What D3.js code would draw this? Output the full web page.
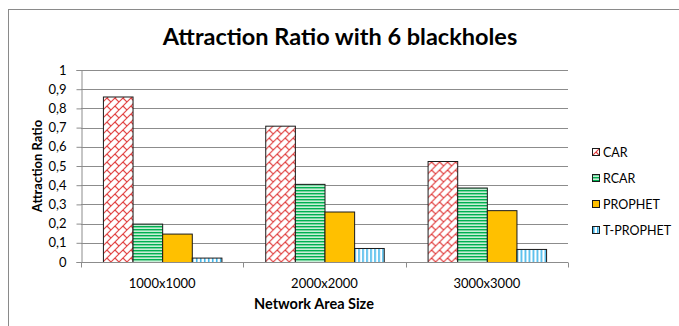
<!DOCTYPE html>
<html>
<head>
<meta charset="utf-8">
<script src="https://cdn.jsdelivr.net/npm/d3@7"></script>
<style>
  html, body { margin: 0; padding: 0; background: #fff; }
  svg { display: block; font-family: Lato, "Open Sans", sans-serif; }
</style>
</head>
<body>
<div id="chart"></div>
<script>
// chart data
const categories = ['1000x1000', '2000x2000', '3000x3000'];
const seriesNames = ['CAR', 'RCAR', 'PROPHET', 'T-PROPHET'];
const carValues = [0.862, 0.71, 0.526];
const rcarValues = [0.2, 0.407, 0.388];
const prophetValues = [0.148, 0.263, 0.27];
const tprophetValues = [0.023, 0.073, 0.068];
const yTicks = [0, 0.1, 0.2, 0.3, 0.4, 0.5, 0.6, 0.7, 0.8, 0.9, 1];

const seriesValues = [carValues, rcarValues, prophetValues, tprophetValues];
const fills = ['url(#pCar)', 'url(#pRcar)', '#FFC000', 'url(#pTprophet)'];

const width = 679, height = 326;
const margin = { top: 70, right: 111, bottom: 64, left: 81 };
const innerW = width - margin.left - margin.right;
const innerH = height - margin.top - margin.bottom;

const svg = d3.select('#chart').append('svg')
  .attr('width', width)
  .attr('height', height);

// patterns
const defs = svg.append('defs');

const car = defs.append('pattern')
  .attr('id', 'pCar')
  .attr('patternUnits', 'userSpaceOnUse')
  .attr('width', 8).attr('height', 8);
car.append('rect').attr('width', 8).attr('height', 8).attr('fill', '#fff');
car.append('path')
  .attr('d', 'M0,8 L8,0 M-2,2 L2,-2 M6,10 L10,6 M4,4 L8,8')
  .attr('stroke', '#E03A3A').attr('stroke-width', 1.1).attr('fill', 'none');

const rcar = defs.append('pattern')
  .attr('id', 'pRcar')
  .attr('patternUnits', 'userSpaceOnUse')
  .attr('width', 4).attr('height', 3);
rcar.append('rect').attr('width', 4).attr('height', 3).attr('fill', '#C8EED6');
rcar.append('rect').attr('y', 0).attr('width', 4).attr('height', 1.4).attr('fill', '#00B050');

const tp = defs.append('pattern')
  .attr('id', 'pTprophet')
  .attr('patternUnits', 'userSpaceOnUse')
  .attr('width', 4).attr('height', 4);
tp.append('rect').attr('width', 4).attr('height', 4).attr('fill', '#fff');
tp.append('rect').attr('x', 1).attr('width', 1.6).attr('height', 4).attr('fill', '#3DB5EA');

// outer frame
svg.append('rect')
  .attr('x', 8.5).attr('y', 9.5)
  .attr('width', width).attr('height', height)
  .attr('fill', 'none')
  .attr('stroke', '#8a8a8a')
  .attr('stroke-width', 1);

const g = svg.append('g')
  .attr('transform', `translate(${margin.left},${margin.top})`);

const x0 = d3.scaleBand()
  .domain(categories)
  .range([0, innerW])
  .paddingInner(0.27)
  .paddingOuter(0.135);

const x1 = d3.scaleBand()
  .domain(seriesNames)
  .range([0, x0.bandwidth()]);

const y = d3.scaleLinear()
  .domain([0, 1])
  .range([innerH, 0]);

// gridlines
g.append('g')
  .selectAll('line')
  .data(yTicks.slice(1))
  .join('line')
  .attr('x1', 0).attr('x2', innerW)
  .attr('y1', d => Math.round(y(d)) + 0.5)
  .attr('y2', d => Math.round(y(d)) + 0.5)
  .attr('stroke', '#8c8c8c')
  .attr('stroke-width', 1);

// y axis
const yAxis = g.append('g')
  .attr('transform', 'translate(0.5,0)')
  .call(d3.axisLeft(y)
    .tickValues(yTicks)
    .tickSize(5)
    .tickPadding(10)
    .tickFormat(d => d3.format('~g')(d).replace('.', ',')));
yAxis.select('.domain').attr('stroke', '#8c8c8c');
yAxis.selectAll('.tick line').attr('stroke', '#8c8c8c');
yAxis.selectAll('text')
  .attr('font-size', 13)
  .attr('fill', '#000')
  .attr('font-family', 'Lato, sans-serif');

// bars
const groups = g.append('g')
  .selectAll('g')
  .data(categories)
  .join('g')
  .attr('transform', d => `translate(${x0(d)},0)`);

groups.selectAll('rect')
  .data((d, i) => seriesNames.map((s, j) => ({ s, j, v: seriesValues[j][i] })))
  .join('rect')
  .attr('x', d => x1(d.s) + 0.5)
  .attr('y', d => y(d.v) + 0.5)
  .attr('width', x1.bandwidth())
  .attr('height', d => innerH - y(d.v))
  .attr('fill', d => fills[d.j])
  .attr('stroke', '#1a1a1a')
  .attr('stroke-width', 1);

// x axis
const xTickPos = d3.range(categories.length + 1).map(i => i * innerW / categories.length);
const xAxis = g.append('g')
  .attr('transform', `translate(0,${innerH + 0.5})`);
xAxis.append('line')
  .attr('x1', 0).attr('x2', innerW)
  .attr('stroke', '#8c8c8c');
xAxis.selectAll('.xt')
  .data(xTickPos)
  .join('line')
  .attr('class', 'xt')
  .attr('x1', d => Math.round(d) + 0.5).attr('x2', d => Math.round(d) + 0.5)
  .attr('y1', 0).attr('y2', 5)
  .attr('stroke', '#8c8c8c');
xAxis.selectAll('text')
  .data(categories)
  .join('text')
  .attr('x', d => x0(d) + x0.bandwidth() / 2)
  .attr('y', 25)
  .attr('text-anchor', 'middle')
  .attr('font-size', 13)
  .text(d => d);

// axis titles
svg.append('text')
  .attr('x', 314)
  .attr('y', 309)
  .attr('text-anchor', 'middle')
  .attr('font-size', 14.5)
  .attr('font-weight', 'bold')
  .text('Network Area Size');

svg.append('text')
  .attr('transform', `translate(42,${margin.top + innerH / 2}) rotate(-90)`)
  .attr('text-anchor', 'middle')
  .attr('font-size', 13)
  .attr('font-weight', 'bold')
  .text('Attraction Ratio');

// title
svg.append('text')
  .attr('x', 340)
  .attr('y', 45)
  .attr('text-anchor', 'middle')
  .attr('font-size', 23.5)
  .attr('font-weight', 'bold')
  .text('Attraction Ratio with 6 blackholes');

// legend
const legend = svg.append('g')
  .attr('transform', 'translate(592,148)');
const li = legend.selectAll('g')
  .data(seriesNames)
  .join('g')
  .attr('transform', (d, i) => `translate(0,${i * 26})`);
li.append('rect')
  .attr('x', 0.5).attr('y', 0.5)
  .attr('width', 7).attr('height', 7)
  .attr('fill', (d, i) => fills[i])
  .attr('stroke', '#1a1a1a');
li.append('text')
  .attr('x', 11)
  .attr('y', 8.5)
  .attr('font-size', 12.5)
  .text(d => d);
</script>
</body>
</html>
